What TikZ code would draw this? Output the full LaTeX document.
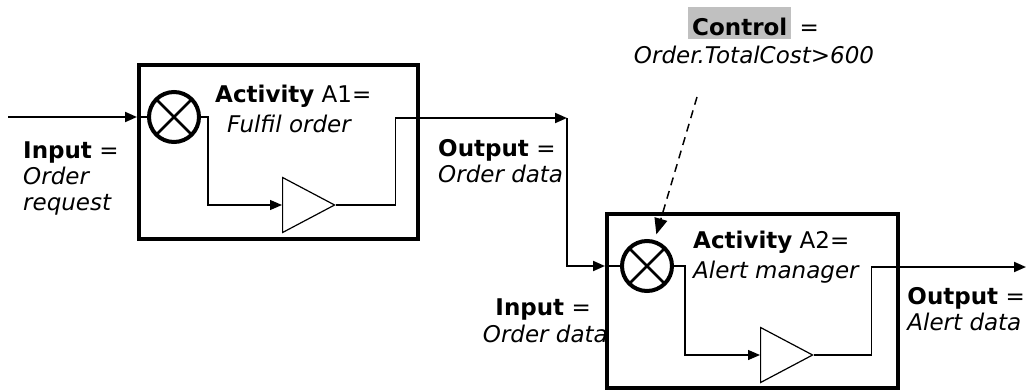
\documentclass[tikz,border=0pt]{standalone}
\usepackage{fontspec}
\setmainfont{DejaVu Sans}
\usetikzlibrary{positioning, arrows.meta, shapes.geometric, calc}
\definecolor{hilite}{HTML}{C0C0C0}

\begin{document}
\begin{tikzpicture}[
    x=1pt, y=-1pt,
    every node/.style={font=\fontsize{23}{26}\selectfont, inner sep=0pt},
    actbox/.style={draw, line width=4pt},
    mixer/.style={draw, circle, line width=4pt, minimum size=50pt,
      path picture={\draw[line width=2.5pt]
        (path picture bounding box.north west) -- (path picture bounding box.south east)
        (path picture bounding box.north east) -- (path picture bounding box.south west);}},
    amp/.style={draw, isosceles triangle, isosceles triangle stretches, line width=1.2pt,
      minimum width=55pt, minimum height=52pt, anchor=west},
    wire/.style={line width=1.3pt},
    io/.style={line width=2pt},
    tip/.style={-{Triangle[length=12pt,width=10pt]}},
    ctrlline/.style={line width=1.5pt, dash pattern=on 8pt off 6pt,
      -{Triangle[length=16pt,width=13pt]}},
  ]
  \useasboundingbox (0,0) rectangle (1026,391);

  % activity boxes
  \node[actbox, minimum width=279pt, minimum height=174pt] (actA) at (278.5,152) {};
  \node[actbox, minimum width=291pt, minimum height=174pt] (actB) at (752.5,301) {};
  \node[mixer] (mixA) at (174,117) {};
  \node[mixer] (mixB) at (647,266) {};
  \node[amp] (ampA) at (282,205) {};
  \node[amp] (ampB) at (760,355) {};

  % labels
  \node[anchor=base west] (actLblA) at (215,102) {\textbf{Activity} A1=};
  \node[anchor=base west] (actNameA) at (227,132) {\textit{Fulfil order}};
  \node[anchor=base west] (actLblB) at (693,248) {\textbf{Activity} A2=};
  \node[anchor=base west] (actNameB) at (693,278) {\textit{Alert manager}};
  \node[anchor=base west, align=left] (inLblA) at (23,210) {\textbf{Input} =\\\textit{Order}\\\textit{request}};
  \node[anchor=base west, align=left] (outLblA) at (438,182) {\textbf{Output} =\\\textit{Order data}};
  \node[anchor=base east] (inLblB) at (591,315) {\textbf{Input} =};
  \node[anchor=base east] (inTxtB) at (608,342) {\textit{Order data}};
  \node[anchor=base east, align=left] (outLblB) at (1025,330) {\textbf{Output} =\\\textit{Alert data}};
  \node[fill=hilite, inner xsep=4pt, text height=28pt, text depth=4pt, anchor=base west] (ctrlKey) at (688,35) {\textbf{Control}};
  \node[right=8pt of ctrlKey.base east, anchor=base west] (ctrlEq) {=};
  \node[anchor=base] (ctrlCond) at (754,63) {\textit{Order.TotalCost>600}};

  % flows
  \coordinate (inA) at (8,117);
  \coordinate (outA) at (567,118);
  \coordinate (outB) at (1026,267);
  \coordinate (ctrlS) at (697,97);

  \draw[io, tip] (inA) -- (actA.west |- mixA);
  \draw[wire] (actA.west |- mixA) -- (mixA);
  \draw[wire, tip] (mixA.east) -- ++(7,0) |- (ampA.west);
  \draw[wire] (ampA.apex) -- ++(59,0) |- (actA.east |- outA);
  \draw[io, tip] (actA.east |- outA) -- (outA);
  \draw[io, tip] (outA) |- (actB.west |- mixB);
  \draw[wire] (actB.west |- mixB) -- (mixB);
  \draw[wire, tip] (mixB.east) -- ++(11,0) |- (ampB.west);
  \draw[wire] (ampB.apex) -- ++(57,0) |- (actB.east |- outB);
  \draw[io, tip] (actB.east |- outB) -- (outB);
  \draw[ctrlline, shorten >=6pt] (ctrlS) -- (mixB);
\end{tikzpicture}
\end{document}
